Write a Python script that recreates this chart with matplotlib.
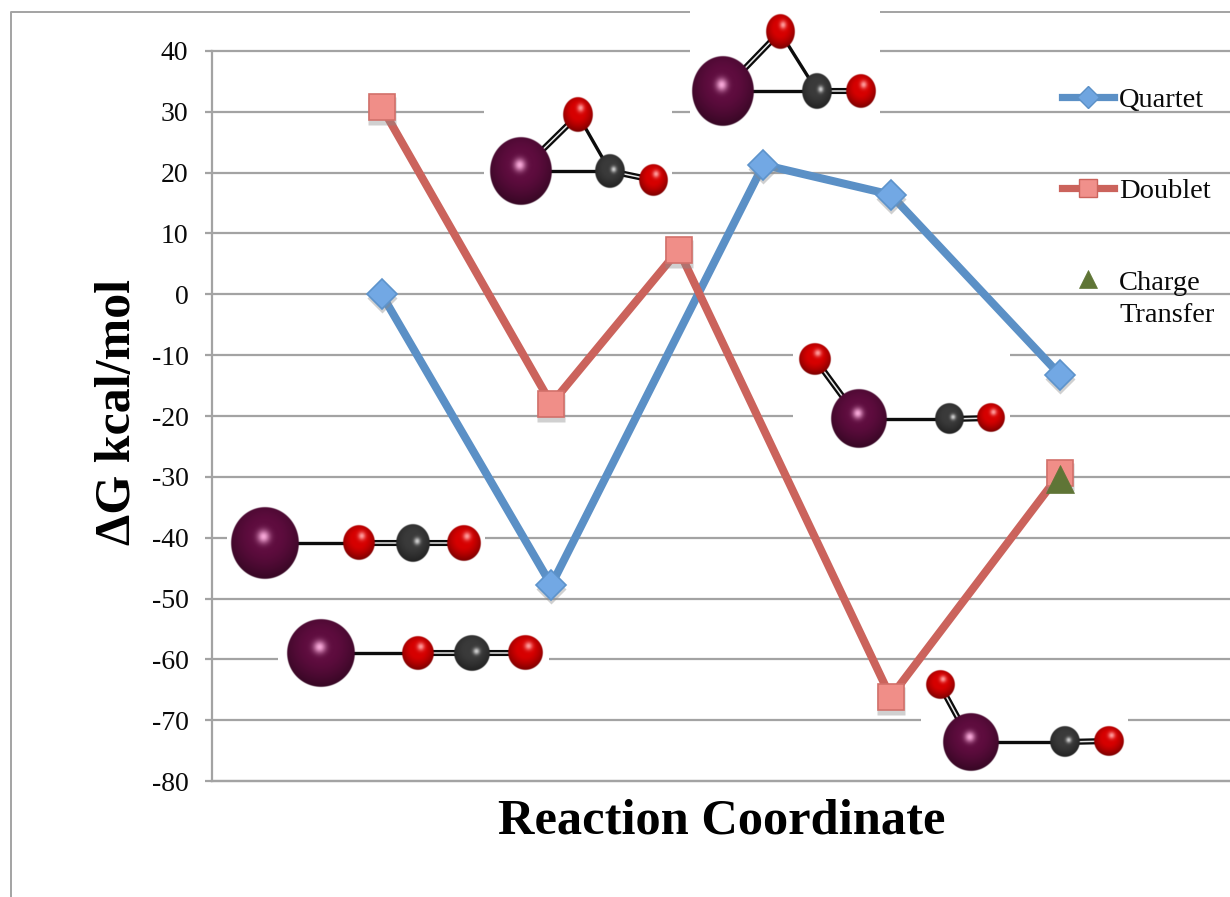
import numpy as np
from matplotlib import pyplot as plt
from matplotlib.lines import Line2D
from matplotlib.transforms import ScaledTranslation

# Reaction coordinate positions and energies
quartet_x = [1, 2, 3.25, 4, 5]
quartet_y = [0, -47.8, 21.3, 16.4, -13.3]
doublet_x = [1, 2, 2.75, 4, 5]
doublet_y = [30.8, -18, 7.3, -66.2, -29.4]
charge_x = [5]
charge_y = [-30.3]

y_ticks = [40, 30, 20, 10, 0, -10, -20, -30, -40, -50, -60, -70, -80]
y_labels = ['40', '30', '20', '10', '0', '-10', '-20', '-30', '-40', '-50', '-60', '-70', '-80']

BLUE = '#5b90c6'
RED = '#cb635c'
GREEN = '#5f7536'
GRID = '#a3a3a3'
W, H = 1230, 897
SERIF = 'Liberation Serif'

# White boxes behind the pasted molecule pictures (x0, y0, x1, y1 in image pixels)
boxes = [
    (690, 0, 880, 125),
    (484, 95, 672, 205),
    (793, 340, 1010, 455),
    (921, 670, 1128, 775),
    (227, 505, 485, 590),
    (278, 615, 549, 690),
]

# Molecules: atoms are (kind, cx, cy, rx, ry), bonds are (atom, atom, order)
molecules = [
    ([('Ru', 265, 543, 34, 36), ('O', 359, 543, 16, 17.5), ('C', 413, 543, 17, 19), ('O', 464, 543, 17, 18)],
     [(0, 1, 1), (1, 2, 2), (2, 3, 2)]),
    ([('Ru', 321, 653, 34, 34), ('O', 418, 653, 16, 17), ('C', 472, 653, 18, 18), ('O', 525, 653, 17.5, 17.5)],
     [(0, 1, 1), (1, 2, 2), (2, 3, 2)]),
    ([('Ru', 521, 171, 31, 34), ('O', 578, 115, 15, 17.5), ('C', 610, 171, 15, 17), ('O', 653, 180, 14.5, 16)],
     [(0, 1, 2), (1, 2, 1), (0, 2, 1), (2, 3, 2)]),
    ([('Ru', 723, 91, 31, 35), ('O', 780, 32, 14.5, 17.5), ('C', 817, 91, 15, 18), ('O', 861, 91, 15, 17)],
     [(0, 1, 2), (1, 2, 1), (0, 2, 1), (2, 3, 2)]),
    ([('Ru', 859, 419, 28, 29.5), ('O', 815, 359, 16, 16), ('C', 949, 419, 14.5, 15.5), ('O', 991, 418, 14, 14.5)],
     [(0, 1, 2), (0, 2, 1), (2, 3, 2)]),
    ([('Ru', 971, 742, 28, 29), ('O', 940, 685, 14.5, 14.5), ('C', 1065, 742, 15, 15.5), ('O', 1109, 741, 15, 15)],
     [(0, 1, 2), (0, 2, 1), (2, 3, 2)]),
]

# base colour, highlight colour, highlight position, highlight size
atom_styles = {
    'Ru': ('#5e0c3e', '#f7a8d8', (-0.04, -0.18), 0.13),
    'O': ('#d60000', '#ff9a9a', (0.18, -0.38), 0.16),
    'C': ('#3a3a3a', '#cfcfcf', (0.25, -0.1), 0.13),
}


def hex_rgb(c):
    return np.array([int(c[i:i + 2], 16) / 255 for i in (1, 3, 5)])


def draw_atom(ax, kind, cx, cy, rx, ry):
    base, spot, (hu, hv), size = atom_styles[kind]
    xs = np.linspace(cx - rx - 1, cx + rx + 1, int(2 * rx + 2) * 3)
    ys = np.linspace(cy - ry - 1, cy + ry + 1, int(2 * ry + 2) * 3)
    xx, yy = np.meshgrid(xs, ys)
    u, v = (xx - cx) / rx, (yy - cy) / ry
    d = np.sqrt(u ** 2 + v ** 2)
    # darker toward the lower rim
    shade = 1 - 0.62 * np.clip(np.sqrt(u ** 2 + (v + 0.2) ** 2) - 0.45, 0, 1) ** 1.3
    glow = np.exp(-((u - hu) ** 2 + (v - hv) ** 2) / (2 * size ** 2))[..., None]
    rgb = hex_rgb(base) * shade[..., None] * (1 - glow) + hex_rgb(spot) * glow
    alpha = np.clip((1 - d) * min(rx, ry) + 0.5, 0, 1)[..., None]
    ax.imshow(np.concatenate([rgb, alpha], axis=2), extent=(xs[0], xs[-1], ys[-1], ys[0]),
              aspect='auto', interpolation='bilinear', zorder=5)


def draw_bond(ax, a, b, order):
    x = [a[1], b[1]]
    y = [a[2], b[2]]
    if order == 1:
        ax.plot(x, y, color='#0c0c0c', lw=2.4, zorder=4, solid_capstyle='butt')
    else:
        ax.plot(x, y, color='#0c0c0c', lw=4.4, zorder=4, solid_capstyle='butt')
        ax.plot(x, y, color='#e8e8e8', lw=1.1, zorder=4, solid_capstyle='butt')


fig = plt.figure(dpi=100, figsize=(W / 100, H / 100))
rect = [212 / W, (H - 781) / H, 1018 / W, 730 / H]

# Grid and axis
ax = fig.add_axes(rect, zorder=1)
ax.set_xlim(0, 6)
ax.set_ylim(-80, 40)
ax.set_xticks([])
ax.set_yticks(y_ticks)
ax.set_yticklabels(y_labels, fontsize=20, family=SERIF, color='#0a0a0a')
ax.tick_params(axis='y', length=5, width=1.6, color=GRID, pad=12)
ax.grid(axis='y', color=GRID, lw=1.6, clip_on=False)
ax.set_axisbelow(True)
for name in ['top', 'right']:
    ax.spines[name].set_visible(False)
for name in ['left', 'bottom']:
    ax.spines[name].set_color(GRID)
    ax.spines[name].set_linewidth(1.6)

# Pixel overlay for the frame and molecule pictures
pix = fig.add_axes([0, 0, 1, 1], zorder=2)
pix.patch.set_alpha(0)
pix.axis('off')
pix.plot([1230, 11, 11], [12, 12, 897], color=GRID, lw=1.4, zorder=2)
for x0, y0, x1, y1 in boxes:
    pix.fill([x0, x1, x1, x0], [y0, y0, y1, y1], color='white', lw=0, zorder=3)
for atoms, bonds in molecules:
    for i, j, order in bonds:
        draw_bond(pix, atoms[i], atoms[j], order)
    for atom in atoms:
        draw_atom(pix, *atom)

# Legend, placed by hand like the original
pix.add_line(Line2D([1062, 1114], [97, 97], color=BLUE, lw=5.2, zorder=6))
pix.add_line(Line2D([1088], [97], marker='D', ms=11.5, mfc='#6fa5e0', mec=BLUE, mew=1, zorder=7))
pix.add_line(Line2D([1062, 1114], [188, 188], color=RED, lw=5.2, zorder=6))
pix.add_line(Line2D([1088], [188], marker='s', ms=12.5, mfc='#f0908b', mec=RED, mew=1, zorder=7))
pix.add_line(Line2D([1088], [279], marker='^', ms=13, mfc=GREEN, mec=GREEN, mew=0.5, zorder=7))
legend_texts = [('Quartet', 107), ('Doublet', 198), ('Charge', 290), ('Transfer', 322)]
for label, base in legend_texts:
    pix.text(1119, base, label, fontsize=20.5, family=SERIF, color='#0a0a0a', va='baseline', zorder=7)

pix.text(722, 833, 'Reaction Coordinate', fontsize=36.4, family=SERIF, weight='bold',
         ha='center', va='baseline', color='black', zorder=7)
pix.text(118, 412, '\u0394G kcal/mol', fontsize=36, family=SERIF, weight='bold', rotation=90,
         ha='center', va='center', color='black', zorder=7)
pix.set_xlim(0, W)
pix.set_ylim(H, 0)

# Series on top of everything
top = fig.add_axes(rect, zorder=3, sharex=ax, sharey=ax)
top.patch.set_alpha(0)
top.axis('off')
shadow = top.transData + ScaledTranslation(0, -3 / 72, fig.dpi_scale_trans)

top.plot(quartet_x, quartet_y, color=BLUE, lw=5.8, zorder=3, solid_joinstyle='round')
top.plot(doublet_x, doublet_y, color=RED, lw=5.8, zorder=3, solid_joinstyle='round')
top.plot(quartet_x, quartet_y, ls='', marker='D', ms=15, mfc='#8a8a8a', mec='none', alpha=0.4,
         transform=shadow, zorder=4, clip_on=False)
top.plot(doublet_x, doublet_y, ls='', marker='s', ms=19.5, mfc='#8a8a8a', mec='none', alpha=0.4,
         transform=shadow, zorder=4, clip_on=False)
top.plot(quartet_x, quartet_y, ls='', marker='D', ms=15, mfc='#72a8e4', mec='#5d93cb', mew=1.2,
         zorder=5, clip_on=False)
top.plot(doublet_x, doublet_y, ls='', marker='s', ms=19, mfc='#f08e88', mec='#d2706a', mew=1.2,
         zorder=5, clip_on=False)
top.plot(charge_x, charge_y, ls='', marker='^', ms=19.5, mfc=GREEN, mec=GREEN, mew=0.5,
         zorder=6, clip_on=False)

fig.savefig('out.png', dpi=100, facecolor='white')
